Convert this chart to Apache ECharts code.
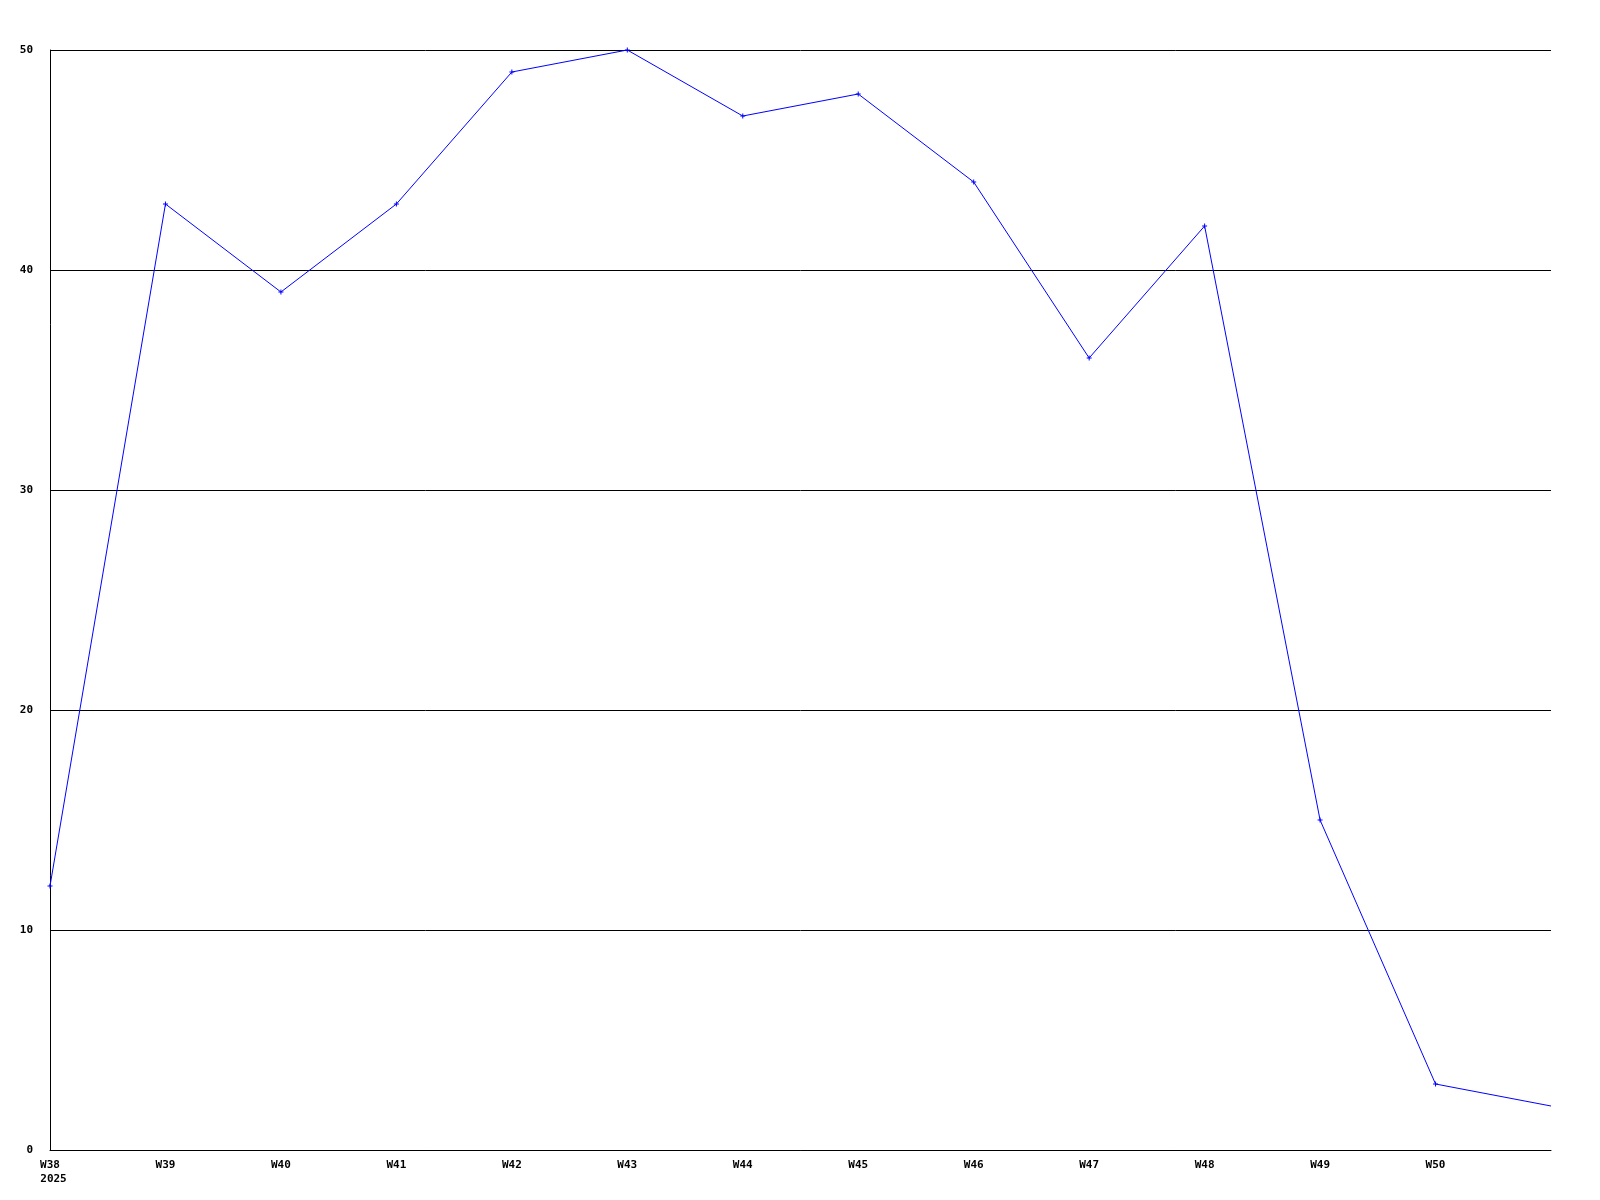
<!DOCTYPE html>
<html><head><meta charset="utf-8">
<script src="https://cdn.jsdelivr.net/npm/echarts@6/dist/echarts.min.js"></script>
<style>html,body{margin:0;padding:0;background:#fff}#c{width:1600px;height:1200px}</style>
</head><body><div id="c"></div>
<script>
const weeks = ["W38","W39","W40","W41","W42","W43","W44","W45","W46","W47","W48","W49","W50","W51"];
const values = [12,43,39,43,49,50,47,48,44,36,42,15,3,2];
const yearLabel = "2025";
const yTicks = [0,10,20,30,40,50];

const chart = echarts.init(document.getElementById('c'), null, {renderer:'canvas'});
const font = {fontFamily:'"DejaVu Sans Mono", monospace', fontWeight:'bold', fontSize:11, color:'#000'};
const plus = 'path://M2,0h1v2h2v1h-2v2h-1v-2h-2v-1h2z';
chart.setOption({
  animation:false,
  backgroundColor:'#fff',
  grid:{left:50,right:49,top:50,bottom:50,containLabel:false},
  xAxis:{
    type:'category', data:weeks, boundaryGap:false,
    axisLine:{show:true,lineStyle:{color:'#000',width:1}},
    axisTick:{show:false},
    splitLine:{show:false},
    axisLabel:Object.assign({}, font, {
      margin:8, lineHeight:14,
      interval:function(i){return i < weeks.length-1;},
      formatter:function(v,i){return i===0 ? v+'\n{y|'+yearLabel+'}' : v;},
      rich:{y:Object.assign({}, font, {padding:[0,0,0,7], lineHeight:14})}
    })
  },
  yAxis:{
    type:'value', min:yTicks[0], max:yTicks[yTicks.length-1], interval:10,
    axisLine:{show:true,lineStyle:{color:'#000',width:1}},
    axisTick:{show:false},
    splitLine:{show:true,lineStyle:{color:'#000',width:1}},
    axisLabel:Object.assign({}, font, {margin:17})
  },
  series:[{
    type:'line',
    data:values.map(function(v,i){return i===values.length-1 ? {value:v, symbol:'none'} : v;}),
    lineStyle:{color:'#0000ff',width:1},
    itemStyle:{color:'#0000ff'},
    symbol:plus, symbolSize:5, showSymbol:true
  }]
});
</script></body></html>
